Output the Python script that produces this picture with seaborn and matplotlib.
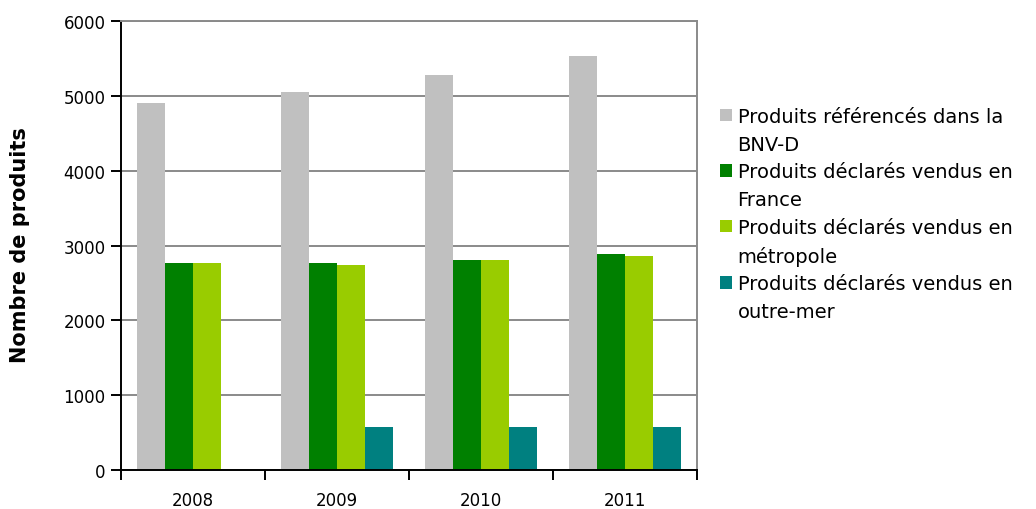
import numpy as np
import pandas as pd
import seaborn as sns
import matplotlib
matplotlib.use("Agg")
import matplotlib.pyplot as plt
from matplotlib.patches import Patch
from matplotlib.ticker import FixedLocator

years = ["2008", "2009", "2010", "2011"]
series = [
    "Produits référencés dans la BNV-D",
    "Produits déclarés vendus en France",
    "Produits déclarés vendus en métropole",
    "Produits déclarés vendus en outre-mer",
]
legend_lines = [
    ("Produits référencés dans la", "BNV-D"),
    ("Produits déclarés vendus en", "France"),
    ("Produits déclarés vendus en", "métropole"),
    ("Produits déclarés vendus en", "outre-mer"),
]
referenced = [4900, 5050, 5280, 5530]
sold_france = [2770, 2770, 2800, 2890]
sold_metro = [2770, 2740, 2800, 2860]
sold_overseas = [np.nan, 580, 580, 580]
colors = ["#C0C0C0", "#008000", "#99CC00", "#008080"]
y_ticks = [0, 1000, 2000, 3000, 4000, 5000, 6000]

rows = []
for s, vals in zip(series, [referenced, sold_france, sold_metro, sold_overseas]):
    for y, v in zip(years, vals):
        rows.append({"year": y, "series": s, "value": v})
df = pd.DataFrame(rows)

sns.set_theme(style="white")
plt.rcParams["font.family"] = ["DejaVu Sans"]
plt.rcParams["text.color"] = "black"

fig = plt.figure(figsize=(10.36, 5.10), dpi=100)
ax = fig.add_axes([121 / 1036, 39 / 510, 576 / 1036, 449 / 510])

sns.barplot(data=df, x="year", y="value", hue="series", hue_order=series,
            order=years, palette=colors, width=0.78, gap=0, linewidth=0,
            errorbar=None, ax=ax, legend=False, saturation=1)

ax.set_ylim(0, 6000)
ax.set_xlim(-0.5, 3.5)
ax.set_yticks(y_ticks)
ax.yaxis.grid(True, color="#8a8a8a", lw=1.4)
ax.xaxis.grid(False)
ax.set_axisbelow(True)
for side in ["left", "bottom"]:
    ax.spines[side].set_color("black")
    ax.spines[side].set_linewidth(1.4)
for side in ["right", "top"]:
    ax.spines[side].set_color("#8a8a8a")
    ax.spines[side].set_linewidth(1.4)

ax.tick_params(axis="x", which="major", length=0, pad=15, labelsize=12, labelcolor="black")
ax.xaxis.set_minor_locator(FixedLocator([-0.5, 0.5, 1.5, 2.5, 3.5]))
ax.tick_params(axis="x", which="minor", length=7, width=1.4, color="black",
               direction="out", bottom=True)
ax.tick_params(axis="y", length=7, width=1.4, color="black", direction="out",
               left=True, pad=4, labelsize=12, labelcolor="black")
ax.set_xlabel("")
ax.set_ylabel("")
fig.text(20 / 1036, (510 - 245) / 510, "Nombre de produits", rotation=90,
         ha="center", va="center", fontsize=15, fontweight="bold", color="black")

handles, labels = [], []
for c, (l1, l2) in zip(colors, legend_lines):
    handles.append(Patch(facecolor=c, edgecolor="none"))
    labels.append(l1)
    handles.append(Patch(facecolor="none", edgecolor="none"))
    labels.append(l2)
leg = fig.legend(handles, labels, loc="upper left",
                 bbox_to_anchor=(720 / 1036, (510 - 108) / 510),
                 frameon=False, fontsize=14, handlelength=0.6, handleheight=0.6,
                 handletextpad=0.3, labelspacing=0.45, borderpad=0, borderaxespad=0)
for t in leg.get_texts():
    t.set_color("black")

fig.savefig("out.png", dpi=100, facecolor="white")
